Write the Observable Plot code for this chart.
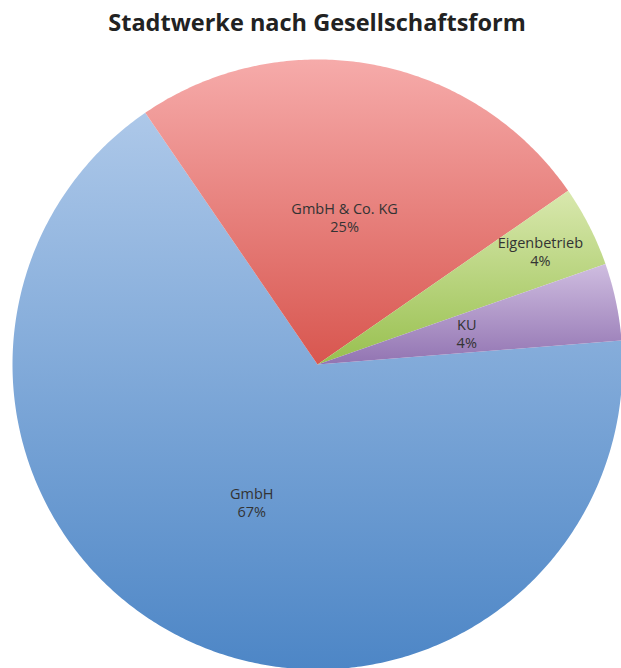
<!DOCTYPE html>
<html>
<head>
<meta charset="utf-8">
<script src="https://cdn.jsdelivr.net/npm/d3@7"></script>
<script src="https://cdn.jsdelivr.net/npm/@observablehq/plot@0.6"></script>
<style>
  html, body { margin: 0; padding: 0; background: #fff; overflow: hidden; }
  #title { height: 46px; line-height: 44px; text-align: center; font-family: "Open Sans", sans-serif; font-weight: bold; font-size: 23.5px; color: #222; padding-left: 13px; white-space: nowrap; }
  svg { display: block; overflow: visible; }
</style>
</head>
<body>
<div id="title">Stadtwerke nach Gesellschaftsform</div>
<div id="chart"></div>
<script>
const categories = ["GmbH", "GmbH & Co. KG", "Eigenbetrieb", "KU"];
const values = [66.7, 24.9, 4.3, 4.1];
const topColors = ["#adc8e9", "#f6abaa", "#d9e8ae", "#cfbde0"];
const bottomColors = ["#4d86c6", "#d8564f", "#98c04f", "#9274b2"];
const startAngleDeg = 85.5;
const labelRadius = [0.5, 0.49, 0.82, 0.5];

const W = 621, H = 622;
const cx = 317, cy = 364 - 46, r = 305;

const pie = d3.pie().sort(null).value(d => d.value)
  .startAngle(startAngleDeg * Math.PI / 180)
  .endAngle(startAngleDeg * Math.PI / 180 + 2 * Math.PI);
const data = categories.map((c, i) => ({category: c, value: values[i], i}));
const arcs = pie(data);

// polygon points for each slice in unit coordinates (x right, y up)
const polys = arcs.map(a => {
  const pts = [{x: 0, y: 0}];
  const n = Math.max(4, Math.ceil((a.endAngle - a.startAngle) / 0.01));
  for (let k = 0; k <= n; k++) {
    const t = a.startAngle + (a.endAngle - a.startAngle) * k / n;
    pts.push({x: Math.sin(t), y: Math.cos(t)});
  }
  pts.push({x: 0, y: 0});
  return pts;
});

const labels = arcs.map((a, j) => {
  const m = (a.startAngle + a.endAngle) / 2;
  const lr = labelRadius[j];
  return {x: lr * Math.sin(m), y: lr * Math.cos(m), text: a.data.category + "\n" + Math.round(a.data.value) + "%"};
});

const defs = () => {
  const svgNS = "http://www.w3.org/2000/svg";
  const d = document.createElementNS(svgNS, "defs");
  categories.forEach((c, i) => {
    const g = document.createElementNS(svgNS, "linearGradient");
    g.setAttribute("id", "grad" + i);
    g.setAttribute("x1", "0"); g.setAttribute("y1", "0");
    g.setAttribute("x2", "0"); g.setAttribute("y2", "1");
    const s1 = document.createElementNS(svgNS, "stop");
    s1.setAttribute("offset", "0"); s1.setAttribute("stop-color", topColors[i]);
    const s2 = document.createElementNS(svgNS, "stop");
    s2.setAttribute("offset", "1"); s2.setAttribute("stop-color", bottomColors[i]);
    g.appendChild(s1); g.appendChild(s2);
    d.appendChild(g);
  });
  return d;
};

const chart = Plot.plot({
  width: W,
  height: H,
  margin: 0,
  x: {type: "linear", domain: [-1, 1], range: [cx - r, cx + r], axis: null},
  y: {type: "linear", domain: [-1, 1], range: [cy + r, cy - r], axis: null},
  marks: [
    defs,
    ...polys.map((p, i) => Plot.line(p, {x: "x", y: "y", fill: `url(#grad${i})`, stroke: "none", curve: "linear"})),
    Plot.text(labels, {x: "x", y: "y", text: "text", fontFamily: "Open Sans, sans-serif", fontSize: 14.5, fill: "#333", lineHeight: 1.25})
  ]
});
document.getElementById("chart").appendChild(chart);
</script>
</body>
</html>
